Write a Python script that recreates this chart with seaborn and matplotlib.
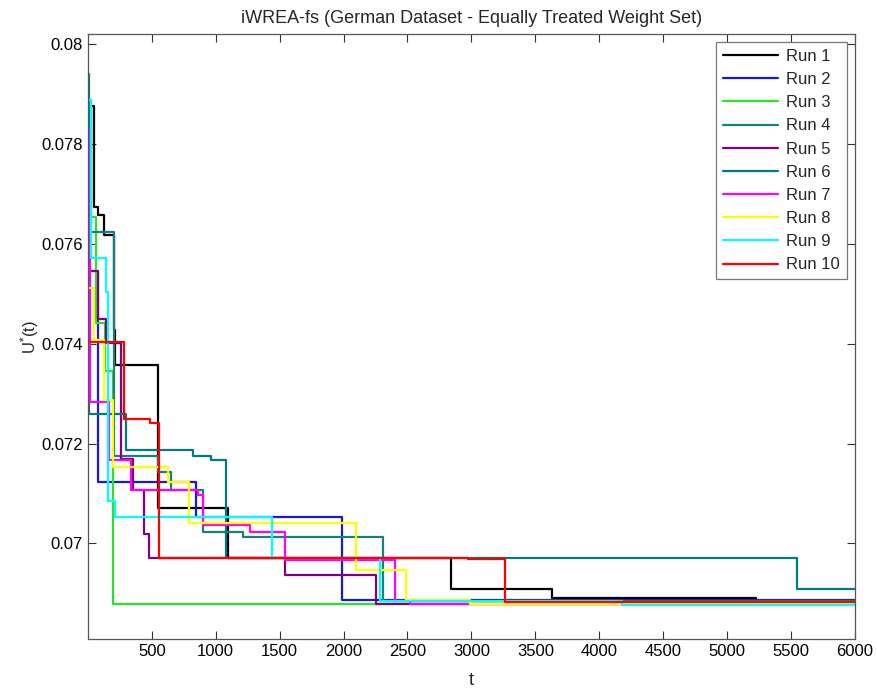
import pandas as pd
import matplotlib
matplotlib.use("Agg")
import matplotlib.pyplot as plt
import seaborn as sns

# Best-so-far objective per run (step data)
run_t = {
    "Run 1": [1, 52, 77, 124, 208, 215, 547, 1095, 2844, 3634, 5223, 6000],
    "Run 2": [1, 77, 848, 1987, 6000],
    "Run 3": [1, 26, 65, 138, 195, 6000],
    "Run 4": [1, 26, 203, 547, 652, 899, 1212, 2308, 6000],
    "Run 5": [1, 77, 143, 261, 351, 443, 482, 1539, 2257, 6000],
    "Run 6": [1, 10, 300, 821, 965, 1082, 5545, 6000],
    "Run 7": [1, 13, 169, 339, 860, 899, 1265, 1539, 2400, 2517, 6000],
    "Run 8": [1, 52, 130, 195, 625, 790, 2100, 2491, 2987, 6000],
    "Run 9": [1, 26, 143, 156, 214, 1442, 2283, 4174, 6000],
    "Run 10": [1, 281, 490, 553, 2974, 3266, 6000],
}
run_u = {
    "Run 1": [0.07876, 0.07673, 0.07657, 0.07617, 0.07427, 0.07357, 0.0707, 0.0697, 0.06909, 0.0689, 0.06882, 0.06882],
    "Run 2": [0.07545, 0.07123, 0.07053, 0.06887, 0.06887],
    "Run 3": [0.0787, 0.07653, 0.07441, 0.07345, 0.06879, 0.06879],
    "Run 4": [0.07887, 0.07623, 0.07176, 0.07143, 0.07107, 0.07023, 0.07013, 0.06885, 0.06885],
    "Run 5": [0.07545, 0.0745, 0.07401, 0.0717, 0.07107, 0.07019, 0.0697, 0.06937, 0.06879, 0.06879],
    "Run 6": [0.0794, 0.0726, 0.07187, 0.07175, 0.07168, 0.0697, 0.06909, 0.06909],
    "Run 7": [0.07827, 0.07283, 0.07167, 0.07107, 0.07097, 0.07037, 0.07023, 0.06967, 0.06885, 0.06879, 0.06879],
    "Run 8": [0.07511, 0.07408, 0.07287, 0.07153, 0.07123, 0.07041, 0.06947, 0.06887, 0.06878, 0.06878],
    "Run 9": [0.07887, 0.07571, 0.07503, 0.07085, 0.07053, 0.0697, 0.06885, 0.06877, 0.06877],
    "Run 10": [0.07404, 0.0725, 0.07241, 0.0697, 0.06968, 0.06883, 0.06883],
}
runs = list(run_t.keys())
colors = ["#000000", "#1a1ad0", "#2ee02e", "#168080", "#800080",
          "#007c7c", "#ff00ff", "#ffff00", "#00ffff", "#ff0000"]

xticks = [500, 1000, 1500, 2000, 2500, 3000, 3500, 4000, 4500, 5000, 5500, 6000]
yticks = [0.07, 0.072, 0.074, 0.076, 0.078, 0.08]
ytick_labels = ["0.07", "0.072", "0.074", "0.076", "0.078", "0.08"]

rows = []
for r in runs:
    for t, u in zip(run_t[r], run_u[r]):
        rows.append({"t": t, "U": u, "run": r})
df = pd.DataFrame(rows)

sns.set_style("ticks")
plt.rcParams["font.family"] = ["Liberation Sans", "DejaVu Sans"]

fig = plt.figure(figsize=(8.78, 6.89), dpi=100)
ax = fig.add_axes([0.1002, 0.0721, 0.8736, 0.8786])

sns.lineplot(data=df, x="t", y="U", hue="run", hue_order=runs, palette=colors,
             estimator=None, sort=True, drawstyle="steps-post", linewidth=1.6,
             legend=False, ax=ax)

ax.set_xlim(1, 6000)
ax.set_ylim(0.06808, 0.0802)
ax.set_xticks(xticks)
ax.set_xticklabels([str(x) for x in xticks])
ax.set_yticks(yticks)
ax.set_yticklabels(ytick_labels)
ax.tick_params(direction="in", top=True, right=True, length=5.5, width=0.8,
               labelsize=12, colors="#333333", labelcolor="black")
for s in ax.spines.values():
    s.set_color("#555555")
    s.set_linewidth(0.9)

ax.set_title("iWREA-fs (German Dataset - Equally Treated Weight Set)", fontsize=13, pad=8)
ax.set_xlabel("t", fontsize=13, labelpad=9)
ax.set_ylabel(r"$\mathregular{U^{*}(t)}$", fontsize=12, labelpad=0)

leg = ax.legend(ax.get_lines(), runs, loc="upper right", fontsize=12,
                frameon=True, fancybox=False, edgecolor="#555555",
                handlelength=3.3, labelspacing=0.49, borderaxespad=0.5,
                handletextpad=0.5, borderpad=0.4)
leg.get_frame().set_linewidth(0.9)

fig.savefig("out.png", dpi=100)
